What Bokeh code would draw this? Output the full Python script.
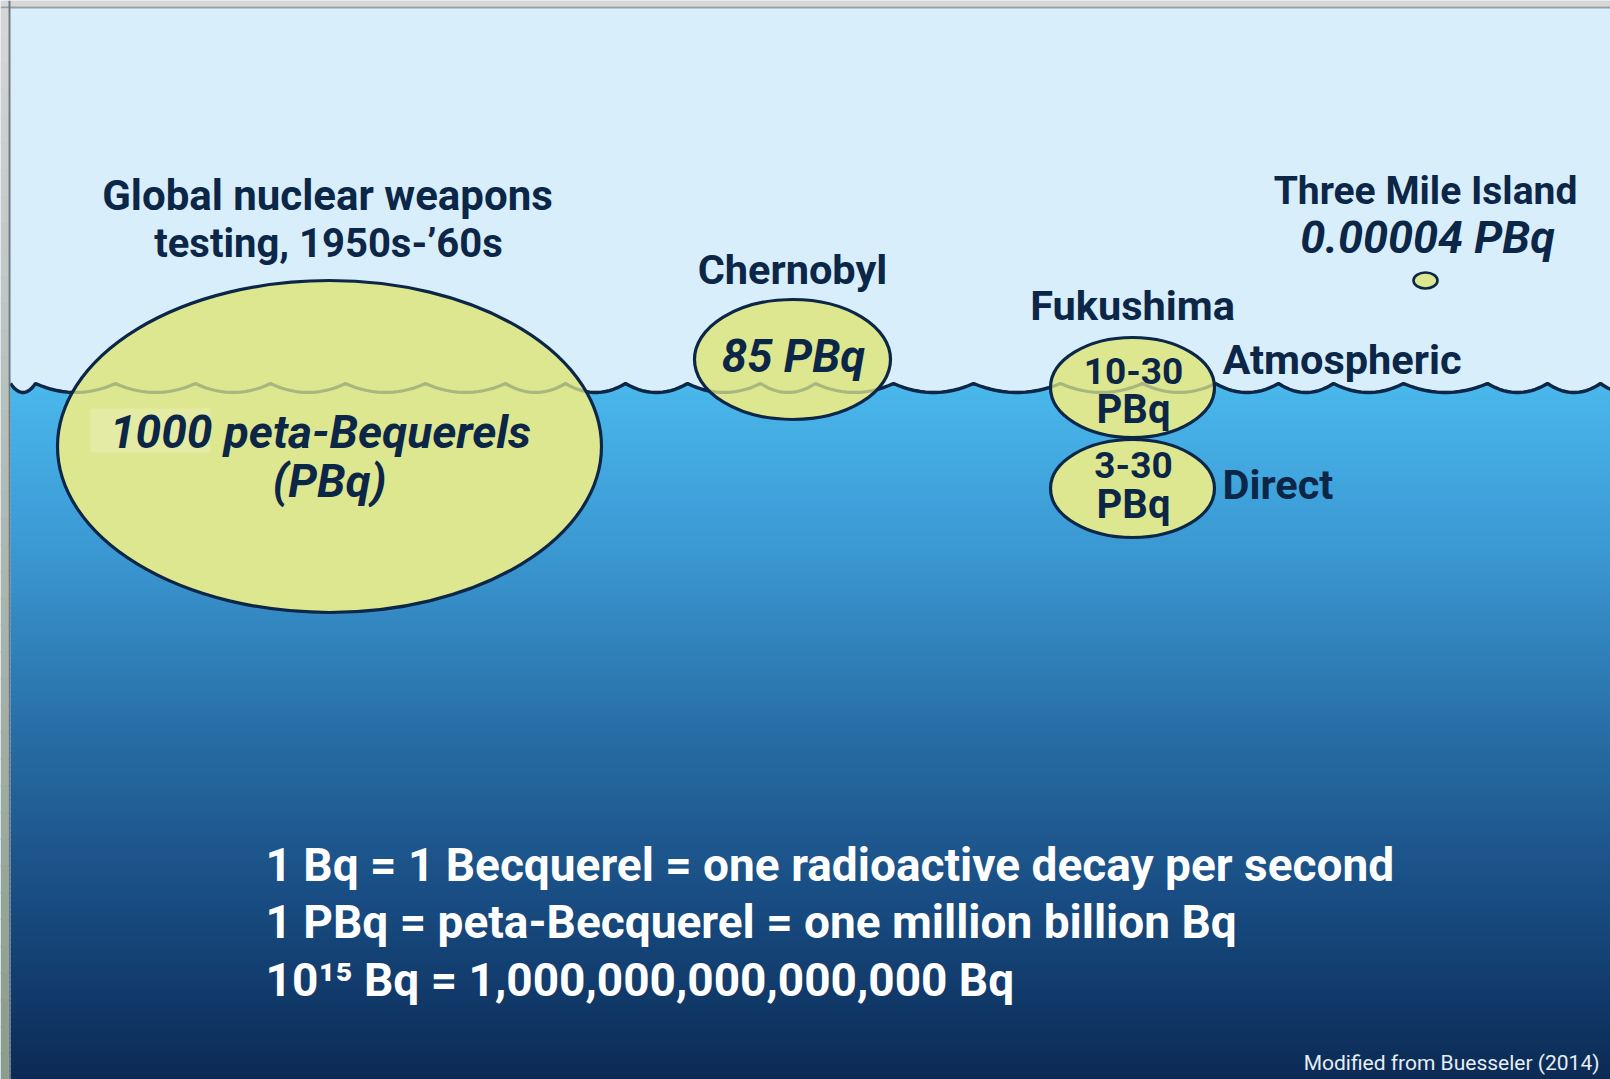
import numpy as np
from bokeh.plotting import figure
from bokeh.models import Range1d
from bokeh.core.properties import value
from bokeh.embed import file_html
from bokeh.resources import INLINE

# ---- data ----
events = ["Global nuclear weapons testing, 1950s-'60s", "Chernobyl",
          "Fukushima (atmospheric)", "Fukushima (direct)", "Three Mile Island"]
release_text = ["1000 peta-Bequerels (PBq)", "85 PBq", "10-30 PBq", "3-30 PBq", "0.00004 PBq"]

# bubble geometry (picture pixel space)
bubble_x = [329, 792, 1132, 1132, 1425]
bubble_y = [446, 359, 387, 488, 280]
bubble_w = [544, 196, 164, 164, 24]
bubble_h = [332, 120, 100, 98, 16]

# sea-surface wave crest positions (picture pixel space)
wave_crest_x = [10, 35, 115, 195, 270, 345, 425, 505, 565, 625, 687, 760, 815, 893,
                973, 1060, 1142, 1215, 1278, 1333, 1403, 1487, 1547, 1600, 1650]

definition_lines = ["1 Bq = 1 Becquerel = one radioactive decay per second",
                    "1 PBq = peta-Becquerel = one million billion Bq",
                    "10\u00b9\u2075 Bq = 1,000,000,000,000,000 Bq"]
credit = "Modified from Buesseler (2014)"

# ---- styling ----
NAVY = "#0c2648"
SKY = "#d8eefa"
BUBBLE = "#dde790"
FONT = value("Roboto, sans-serif")

W, H = 1610, 1079
SX, SY = 10, 8   # slide's top-left corner inside the frame
p = figure(width=W, height=H, x_range=Range1d(0, W), y_range=Range1d(H, 0),
           output_backend="svg", toolbar_location=None, min_border=0,
           background_fill_color=SKY, border_fill_color=SKY, outline_line_color=None)
p.axis.visible = False
p.grid.visible = False

def lerp_colors(ys, stops_y, stops_c):
    out = []
    for m in ys:
        c = [int(round(np.interp(m, stops_y, [s[k] for s in stops_c]))) for k in range(3)]
        out.append("#%02x%02x%02x" % tuple(c))
    return out

# water gradient
CREST_Y, DEPTH = 383, 9
n = 150
edges = np.linspace(378, H, n + 1)
cols = lerp_colors((edges[:-1] + edges[1:]) / 2, [378, 560, 730, 900, 1079],
                   [(74, 185, 237), (58, 150, 208), (40, 110, 166), (24, 76, 130), (11, 42, 84)])
p.quad(left=SX, right=W, top=edges[:-1], bottom=edges[1:] + 1.5, fill_color=cols, line_color=None)

# wave curve
wx, wy = [], []
for a, b in zip(wave_crest_x[:-1], wave_crest_x[1:]):
    t = np.linspace(0, 1, 16)
    wx += list(a + (b - a) * t)
    wy += list(CREST_Y + DEPTH * 4 * t * (1 - t))
p.patch(wx + [wx[-1], wx[0]], wy + [370, 370], fill_color=SKY, line_color=None)
p.line(wx, wy, line_color=NAVY, line_width=3.4)

# grey frame around the slide (top and left)
p.quad(left=0, right=W, top=0, bottom=SY - 2, fill_color="#d7d7d7", line_color=None)
p.quad(left=0, right=W, top=SY - 2, bottom=SY, fill_color="#9c9fa2", line_color=None)
fe = np.linspace(SY, H, 41)
fcols = lerp_colors((fe[:-1] + fe[1:]) / 2, [SY, 500, H], [(214, 214, 214), (176, 186, 180), (138, 156, 140)])
p.quad(left=0, right=SX - 2, top=fe[:-1], bottom=fe[1:] + 1.5, fill_color=fcols, line_color=None)
p.quad(left=SX - 2, right=SX, top=0, bottom=H, fill_color="#6f7a80", line_color=None)

# bubbles
p.ellipse(x=bubble_x, y=bubble_y, width=bubble_w, height=bubble_h,
          fill_color=BUBBLE, line_color=NAVY, line_width=[3.2, 3.2, 3.2, 3.2, 2.6])
# faint artefact patch behind "1000"
p.quad(left=90, right=210, top=408, bottom=452, fill_color="#e6eca9", fill_alpha=0.8, line_color=None)
# faint wave seen through bubbles
p.line(wx, wy, line_color=NAVY, line_width=3.2, line_alpha=0.25)

def txt(x, y, s, size, italic=False, align="center", color=NAVY, style=None):
    st = style or ("bold italic" if italic else "bold")
    p.text(x=[x], y=[y], text=[s], text_font=FONT, text_font_size=f"{size}px",
           text_font_style=st, text_color=color, text_align=align, text_baseline="middle")

txt(327, 195, "Global nuclear weapons", 42)
txt(328, 243, "testing, 1950s-\u201960s", 40)
txt(792, 269, events[1], 41.5)
txt(1132, 305, "Fukushima", 41.5)
txt(1425, 190, events[4], 39)
txt(1222, 359, "Atmospheric", 41.5, align="left")
txt(1222, 484, "Direct", 41.5, align="left")
txt(1133, 370, "10-30", 37)
txt(1133, 409, "PBq", 40)
txt(1133, 464, "3-30", 37)
txt(1133, 504, "PBq", 40)
txt(320, 431, "1000 peta-Bequerels", 46, italic=True)
txt(329, 480, "(PBq)", 46, italic=True)
txt(793, 356, release_text[1], 45.5, italic=True)
txt(1427, 237, release_text[4], 45, italic=True)

for yy, s in zip([864, 921, 979], definition_lines):
    txt(265, yy, s, 46, align="left", color="white")
txt(1599, 1062, credit, 21, align="right", color="#e6edf4", style="normal")

open("out.html", "w").write(file_html(p, INLINE))
